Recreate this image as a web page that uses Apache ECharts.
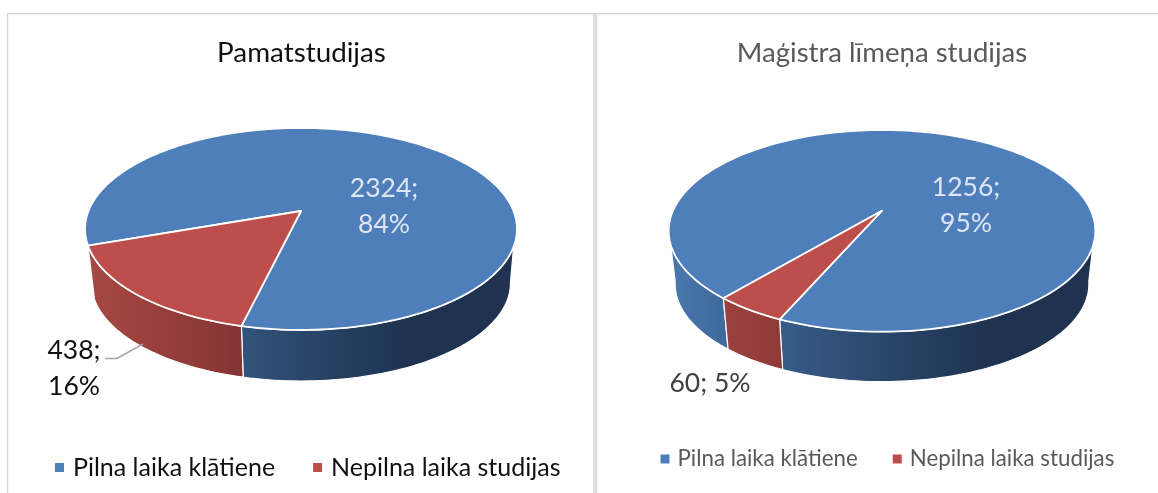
<!DOCTYPE html>
<html><head><meta charset="utf-8">
<style>html,body{margin:0;padding:0;background:#fff}#c{width:1158px;height:493px}</style>
<script src="https://cdn.jsdelivr.net/npm/echarts@6/dist/echarts.min.js"></script>
</head><body><div id="c"></div>
<script>
const categories = ['Pilna laika klātiene', 'Nepilna laika studijas'];
const pamatValues = [2324, 438];
const magistraValues = [1256, 60];
const chartTitles = ['Pamatstudijas', 'Maģistra līmeņa studijas'];
const topColors = ['#4f7fbb', '#bd4e4b'];
const FONT = 'Lato, "Open Sans", sans-serif';

const sideStops = [
  [{o:-1,c:'#4a78ae'},{o:-0.75,c:'#3f6a9c'},{o:-0.45,c:'#365b87'},{o:-0.26,c:'#31527a'},{o:0.3,c:'#223a5a'},{o:0.5,c:'#1f3350'},{o:1,c:'#1f3350'}],
  [{o:-1,c:'#a84a46'},{o:-0.73,c:'#9a413d'},{o:-0.47,c:'#8f3a38'},{o:-0.26,c:'#823334'},{o:1,c:'#823334'}]
];

const pies = [
  {values: pamatValues, cx:301, apexY:211, sx:212.5, sy:97.8, k:0.178, scale:0.97, dy:54.6, start:250.5,
   labels:[{x:384,y:206,sep:';\n',size:26.5,color:'#dde6f2'},{x:74,y:368,sep:';\n',size:26.5,color:'#111111'}],
   leader:[[105,358.5],[117,358.5],[143,344]]},
  {values: magistraValues, cx:882, apexY:210.7, sx:209, sy:96.8, k:0.2, scale:0.97, dy:53.6, start:220,
   labels:[{x:966,y:205,sep:';\n',size:26.5,color:'#dde6f2'},{x:710,y:383,sep:'; ',size:26.5,color:'#404040'}]}
];

const SIDE_LO_TOP = 110, SIDE_LO_BOTTOM = 100, SIDE_HI_TOP = 251, SIDE_HI_BOTTOM = 260;

function rim(p, deg, bottom) {
  const t = deg * Math.PI / 180, x = Math.sin(t), y = -Math.cos(t), w = 1 - p.k * y;
  const s = bottom ? p.scale : 1, d = bottom ? p.dy : 0;
  return [p.cx + s * p.sx * x / w, p.apexY + d + s * p.sy * y / w];
}
function arc(p, a, b, bottom) {
  const out = [], n = Math.max(2, Math.ceil(Math.abs(b - a) / 1.5));
  for (let i = 0; i <= n; i++) out.push(rim(p, a + (b - a) * i / n, bottom));
  return out;
}
function sliceRange(p, idx) {
  const total = p.values.reduce((a, b) => a + b, 0);
  let a = p.start;
  for (let i = 0; i < idx; i++) a += p.values[i] / total * 360;
  return [a, a + p.values[idx] / total * 360];
}
function visibleRuns(a, b) {
  const runs = [];
  for (const sh of [0, 360, 720]) {
    const lo = SIDE_LO_TOP + sh, hi = SIDE_HI_TOP + sh;
    const s = Math.max(a, lo), e = Math.min(b, hi);
    if (e - s > 10) runs.push({
      s, e,
      sb: a <= lo ? SIDE_LO_BOTTOM + sh : s,
      eb: b >= hi ? SIDE_HI_BOTTOM + sh : e
    });
  }
  return runs;
}
function sideFill(p, idx) {
  const rx = p.sx * 1.02;
  return {type:'linear', x:p.cx - rx, y:0, x2:p.cx + rx, y2:0, global:true,
    colorStops: sideStops[idx].map(s => ({offset:(s.o + 1) / 2, color:s.c}))};
}
function renderSlice(p, idx) {
  return function () {
    const [a, b] = sliceRange(p, idx), children = [];
    for (const r of visibleRuns(a, b)) {
      const pts = arc(p, r.s, r.e, false).concat(arc(p, r.sb, r.eb, true).reverse());
      children.push({type:'polygon', shape:{points:pts}, style:{fill:sideFill(p, idx), stroke:'#ffffff', lineWidth:1.2}});
    }
    const top = [[p.cx, p.apexY]].concat(arc(p, a, b, false));
    children.push({type:'polygon', shape:{points:top}, style:{fill:topColors[idx], stroke:'#ffffff', lineWidth:1.8, lineJoin:'round'}});
    const l = p.labels[idx], total = p.values.reduce((x, y) => x + y, 0);
    const txt = p.values[idx] + l.sep + Math.round(p.values[idx] / total * 100) + '%';
    if (idx === 1 && p.leader) {
      children.push({type:'polyline', shape:{points:p.leader}, style:{fill:null, stroke:'#a6a6a6', lineWidth:1.6}});
    }
    children.push({type:'text', style:{text:txt, x:l.x, y:l.y, align:'center', verticalAlign:'middle',
      font:l.size + 'px ' + FONT, fill:l.color, lineHeight:36}});
    return {type:'group', children};
  };
}

const series = [];
pies.forEach(p => categories.forEach((name, idx) => series.push({
  type:'custom', name, coordinateSystem:'none', silent:true, animation:false, clip:false,
  itemStyle:{color:topColors[idx]}, data:[[p.values[idx]]], renderItem:renderSlice(p, idx)
})));

const frame = {type:'group', silent:true, children:[
  {type:'line', shape:{x1:7.5,y1:14,x2:7.5,y2:493}, style:{stroke:'#d9d9d9',lineWidth:1.5}},
  {type:'line', shape:{x1:7,y1:13.75,x2:1158,y2:13.75}, style:{stroke:'#d9d9d9',lineWidth:1.5}},
  {type:'rect', shape:{x:593,y:14,width:4.3,height:479}, style:{fill:'#dedede'}}
]};

const option = {
  animation:false, backgroundColor:'#ffffff',
  title:[
    {text:chartTitles[0], left:296.5, top:34, textAlign:'center', textStyle:{fontFamily:FONT, fontSize:27.8, fontWeight:'normal', color:'#111111'}},
    {text:chartTitles[1], left:877, top:34, textAlign:'center', textStyle:{fontFamily:FONT, fontSize:27.6, fontWeight:'normal', color:'#595959'}}
  ],
  legend:[
    {data:categories, left:55, top:455, padding:0, icon:'rect', itemWidth:9, itemHeight:9, itemGap:38, selectedMode:false,
     textStyle:{fontFamily:FONT, fontSize:25, color:'#111111', padding:[0,0,0,4]}},
    {data:categories, left:660.5, top:448, padding:0, icon:'rect', itemWidth:9, itemHeight:9, itemGap:35, selectedMode:false,
     textStyle:{fontFamily:FONT, fontSize:22.3, color:'#595959', padding:[0,0,0,3]}}
  ],
  graphic:[frame],
  series
};
const chart = echarts.init(document.getElementById('c'), null, {renderer:'canvas'});
chart.setOption(option);
</script></body></html>
